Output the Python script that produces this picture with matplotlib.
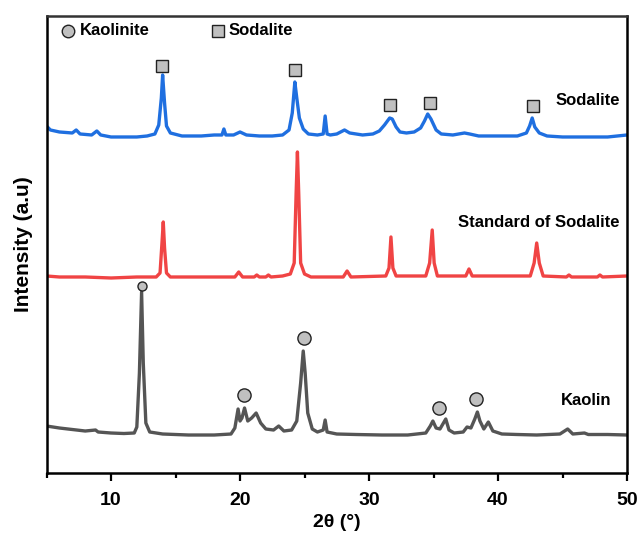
import matplotlib.pyplot as plt
from matplotlib.ticker import MultipleLocator

plt.rcParams['font.family'] = ['Liberation Sans', 'DejaVu Sans']
plt.rcParams['font.weight'] = 'bold'

# points (2theta, offset intensity)
sod_x = [5.0, 5.3, 6.0, 7.0, 7.3, 7.6, 8.5, 8.9, 9.2, 10.0, 11.0, 12.0, 12.8, 13.4, 13.7,
         13.9, 14.0, 14.15, 14.3, 14.6, 15.5, 17.0, 18.0, 18.6, 18.75, 18.9, 19.5, 20.0,
         20.5, 21.5, 22.5, 23.3, 23.8, 24.05, 24.25, 24.4, 24.6, 24.9, 25.3, 26.0, 26.45,
         26.6, 26.75, 27.0, 27.5, 28.1, 28.5, 29.5, 30.3, 30.8, 31.2, 31.6, 31.8, 32.1,
         32.4, 32.9, 33.5, 34.0, 34.3, 34.55, 34.8, 35.2, 35.6, 36.5, 37.4, 37.8, 38.5,
         40.0, 41.5, 42.2, 42.45, 42.65, 42.85, 43.2, 43.8, 45.0, 47.0, 48.5, 50.0]
sod_y = [347, 343, 341, 340, 343, 339, 338, 342, 338, 336, 336, 336, 337, 339, 348,
         375, 398, 370, 347, 340, 337, 337, 338, 338, 344, 338, 338, 341,
         338, 337, 337, 338, 343, 360, 391, 375, 355, 344, 339, 338, 339,
         357, 339, 338, 339, 343, 340, 338, 339, 342, 348, 355, 354, 346,
         341, 340, 341, 345, 352, 359, 354, 343, 339, 338, 340, 339, 337,
         337, 337, 340, 347, 355, 346, 340, 337, 336, 336, 336, 338]

std_x = [5.0, 6.0, 8.0, 10.0, 12.0, 13.5, 13.8, 13.95, 14.05, 14.15, 14.3, 14.6, 17.0,
         19.6, 19.9, 20.2, 21.1, 21.3, 21.5, 22.0, 22.2, 22.4, 23.3, 23.9, 24.2, 24.35,
         24.45, 24.55, 24.7, 25.0, 25.5, 28.0, 28.3, 28.6, 31.3, 31.55, 31.7, 31.85, 32.1,
         34.4, 34.7, 34.9, 35.05, 35.3, 37.5, 37.75, 38.0, 42.5, 42.8, 43.0, 43.2, 43.5,
         45.3, 45.5, 45.7, 47.7, 47.9, 48.1, 50.0]
std_y = [197, 196, 196, 195, 196, 196, 200, 230, 251, 225, 200, 196, 196,
         196, 201, 196, 196, 198, 196, 196, 198, 196, 197, 199, 210, 280,
         321, 280, 210, 199, 196, 196, 202, 196, 197, 205, 236, 205, 197,
         197, 210, 243, 210, 197, 197, 204, 197, 197, 210, 230, 210, 197,
         196, 198, 196, 196, 198, 196, 197]

kao_x = [5.0, 6.0, 7.0, 8.0, 8.8, 9.0, 10.0, 11.0, 11.8, 12.0, 12.2, 12.37, 12.5, 12.7,
         13.0, 14.0, 16.0, 18.0, 19.3, 19.6, 19.85, 20.0, 20.15, 20.35, 20.6, 20.9, 21.25,
         21.6, 22.0, 22.6, 23.0, 23.4, 24.0, 24.4, 24.7, 24.9, 25.05, 25.25, 25.6, 26.0,
         26.45, 26.6, 26.75, 27.5, 29.0, 31.0, 33.0, 34.4, 34.75, 34.95, 35.2, 35.5, 35.95,
         36.2, 36.6, 37.3, 37.6, 37.9, 38.2, 38.4, 38.6, 38.9, 39.25, 39.6, 40.3, 41.5,
         43.0, 44.8, 45.4, 45.8, 46.7, 47.0, 48.5, 50.0]
kao_y = [47, 45, 43.5, 42, 43, 41, 40, 39.5, 40, 46, 100, 181, 110, 50,
         41, 39, 38, 38, 39, 45, 64, 52, 55, 65, 52, 55, 60,
         50, 44, 43, 47, 42, 43, 52, 90, 122, 100, 60, 44, 41,
         43, 53, 41, 39, 38.5, 38, 38, 40, 47, 52, 45, 44, 54,
         43, 40, 41, 46, 45, 54, 61, 52, 44, 51, 42, 39, 38.5,
         38, 39, 44, 39, 40, 38.5, 38.5, 38]

# phase marks
sq_x = [13.92, 24.3, 31.63, 34.7, 42.74]
sq_y = [407, 403, 368, 370, 367]
circ_x = [20.3, 24.95, 35.43, 38.32]
circ_y = [78, 135, 65, 74]

fig = plt.figure(figsize=(6.4, 5.38), dpi=100)
ax = fig.add_axes([0.0727, 0.1208, 0.9070, 0.8495])

ax.plot(sod_x, sod_y, color='#1f6fe0', lw=2.4)
ax.plot(std_x, std_y, color='#f04444', lw=2.4)
ax.plot(kao_x, kao_y, color='#555555', lw=2.4)

ax.plot(sq_x, sq_y, 's', ms=9, mfc='#c0c0c0', mec='#222222', mew=1, ls='none')
ax.plot(circ_x, circ_y, 'o', ms=9.5, mfc='#c0c0c0', mec='#222222', mew=1, ls='none')
ax.plot([12.37], [187], 'o', ms=6.5, mfc='#c0c0c0', mec='#222222', mew=1)

# legend drawn by hand like the original
ax.plot([6.67], [442], 'o', ms=9, mfc='#c0c0c0', mec='#222222', mew=1)
ax.text(7.6, 442, 'Kaolinite', fontsize=12, va='center', ha='left')
ax.plot([18.28], [442], 's', ms=8, mfc='#c0c0c0', mec='#222222', mew=1)
ax.text(19.1, 442, 'Sodalite', fontsize=12, va='center', ha='left')

ax.text(49.45, 372, 'Sodalite', fontsize=12, va='center', ha='right')
ax.text(49.45, 250, 'Standard of Sodalite', fontsize=12, va='center', ha='right')
ax.text(48.75, 73, 'Kaolin', fontsize=12, va='center', ha='right')

ax.set_xlim(5, 50)
ax.set_ylim(0, 457)
ax.xaxis.set_major_locator(MultipleLocator(10))
ax.xaxis.set_minor_locator(MultipleLocator(5))
ax.tick_params(axis='x', which='major', length=6, width=1.6, labelsize=14, pad=8)
ax.tick_params(axis='x', which='minor', length=3.5, width=1.6)
ax.set_yticks([])
for s in ax.spines.values():
    s.set_linewidth(1.8)
ax.spines['top'].set_color('#333333')

ax.set_xlabel('2θ (°)', fontsize=14, fontweight='bold', labelpad=3)
ax.set_ylabel('Intensity (a.u)', fontsize=15, fontweight='bold', labelpad=10)

fig.savefig('out.png', dpi=100)
